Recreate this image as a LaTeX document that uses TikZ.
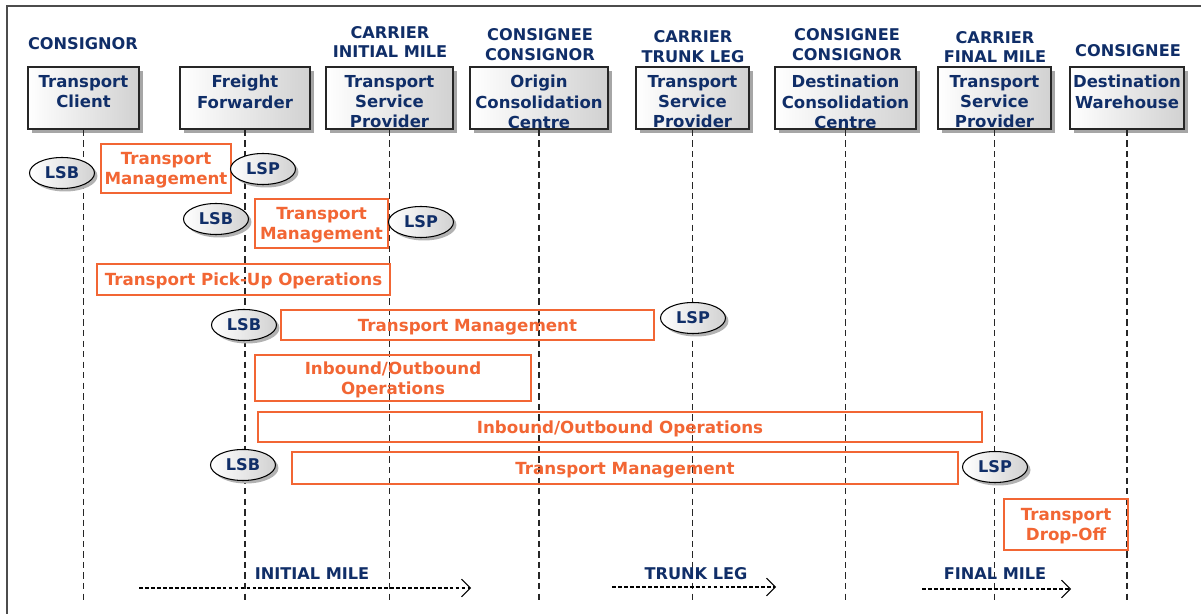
\documentclass[tikz,border=0pt]{standalone}
\usepackage{fontspec}
\setmainfont{DejaVu Sans}
\usetikzlibrary{arrows.meta,positioning,shadows,shapes.geometric}
\definecolor{sdnavy}{RGB}{16,46,104}
\definecolor{sdorange}{RGB}{242,102,52}
\tikzset{
  actor/.style={draw=black!85, line width=0.8pt, minimum height=1.24cm, inner sep=0pt,
    left color=white, right color=black!18,
    drop shadow={shadow xshift=0.08cm, shadow yshift=-0.08cm, fill=black!35, opacity=1}},
  actortext/.style={text=sdnavy, font=\bfseries\fontsize{9.4}{11.5}\selectfont, align=center, inner sep=0pt},
  role/.style={text=sdnavy, font=\bfseries\fontsize{9.2}{11.3}\selectfont, align=center},
  task/.style={draw=sdorange, line width=1.1pt, text=sdorange, inner sep=0pt, text depth=0pt,
    font=\bfseries\fontsize{9.5}{11.3}\selectfont, align=center},
  party/.style={ellipse, draw=black, line width=0.6pt, minimum width=1.3cm, minimum height=0.62cm,
    inner sep=0pt, left color=white, right color=black!18, text=sdnavy,
    font=\bfseries\fontsize{9.2}{10}\selectfont,
    drop shadow={shadow xshift=0.06cm, shadow yshift=-0.06cm, fill=black!30, opacity=1}},
  lifeline/.style={dash pattern=on 3.6pt off 2.4pt, line width=0.6pt, black!85},
  phase/.style={dash pattern=on 2.2pt off 1.2pt, line width=0.6pt, -{Straight Barb[length=5pt,width=10pt]}},
  phaselabel/.style={text=sdnavy, font=\bfseries\fontsize{9.2}{10}\selectfont}
}
\begin{document}
\begin{tikzpicture}[x=0.02cm, y=-0.02cm]
\useasboundingbox (0,0) rectangle (1201,614);
% Frame
\draw[black!70, line width=0.7pt] (7,614) -- (7,6) -- (1201,6);
% Roles above the boxes
\node[role] (r-consignor) at (83,44) {CONSIGNOR};
\node[role] (r-initial) at (390,42) {CARRIER\\INITIAL MILE};
\node[role] (r-origin) at (540,45) {CONSIGNEE\\CONSIGNOR};
\node[role] (r-trunk) at (693,47) {CARRIER\\TRUNK LEG};
\node[role] (r-dest) at (847,45) {CONSIGNEE\\CONSIGNOR};
\node[role] (r-final) at (995,47) {CARRIER\\FINAL MILE};
\node[role] (r-consignee) at (1128,51) {CONSIGNEE};
% Actor boxes
\node[actor, minimum width=2.22cm, label={[actortext, anchor=north, yshift=-5pt]north:{Transport\\Client}}] (tclient) at (83.5,98) {};
\node[actor, minimum width=2.6cm, label={[actortext, anchor=north, yshift=-5pt]north:{Freight\\Forwarder}}] (fwd) at (245,98) {};
\node[actor, minimum width=2.54cm, label={[actortext, anchor=north, yshift=-5pt]north:{Transport\\Service\\Provider}}] (tsp1) at (389.5,98) {};
\node[actor, minimum width=2.76cm, label={[actortext, anchor=north, yshift=-5pt]north:{Origin\\Consolidation\\Centre}}] (origin) at (539,98) {};
\node[actor, minimum width=2.26cm, label={[actortext, anchor=north, yshift=-5pt]north:{Transport\\Service\\Provider}}] (tsp2) at (692.5,98) {};
\node[actor, minimum width=2.82cm, label={[actortext, anchor=north, yshift=-5pt]north:{Destination\\Consolidation\\Centre}}] (dest) at (845.5,98) {};
\node[actor, minimum width=2.26cm, label={[actortext, anchor=north, yshift=-5pt]north:{Transport\\Service\\Provider}}] (tsp3) at (994.5,98) {};
\node[actor, minimum width=2.28cm, label={[actortext, anchor=north, yshift=-5pt]north:{Destination\\Warehouse}}] (whouse) at (1127,98) {};
% Lifelines
\coordinate (bottom) at (0,600);
\foreach \n in {tclient,fwd,tsp1,origin,tsp2,dest,tsp3,whouse}
  \draw[lifeline] (\n.south) -- (\n.south |- bottom);
% Activities
\node[task, minimum width=2.6cm, minimum height=0.98cm] (tm1) at (166,168.5) {Transport\\Management};
\node[task, minimum width=2.66cm, minimum height=0.98cm] (tm2) at (321.5,223.5) {Transport\\Management};
\node[task, minimum width=5.86cm, minimum height=0.62cm] (pickup) at (243.5,279.5) {Transport Pick-Up Operations};
\node[task, minimum width=7.46cm, minimum height=0.6cm] (tm3) at (467.5,325) {Transport Management};
\node[task, minimum width=5.52cm, minimum height=0.92cm] (io1) at (393,378) {Inbound/Outbound\\Operations};
\node[task, minimum width=14.48cm, minimum height=0.6cm] (io2) at (620,427) {Inbound/Outbound Operations};
\node[task, minimum width=13.32cm, minimum height=0.64cm] (tm4) at (625,468) {Transport Management};
\node[task, minimum width=2.48cm, minimum height=1.02cm] (dropoff) at (1066,524.5) {Transport\\Drop-Off};
% Buyer and provider marks
\node[party] (lsb1) at (62,173) {LSB};
\node[party] (lsp1) at (263,169) {LSP};
\node[party] (lsb2) at (216,219) {LSB};
\node[party] (lsp2) at (421,222) {LSP};
\node[party] (lsb3) at (244,325) {LSB};
\node[party] (lsp3) at (693,318) {LSP};
\node[party] (lsb4) at (243,465) {LSB};
\node[party] (lsp4) at (995,467) {LSP};
% Legs along the bottom
\coordinate (im-start) at (139,588);
\coordinate (im-end) at (471,588);
\coordinate (tl-start) at (612,587);
\coordinate (tl-end) at (776,587);
\coordinate (fm-start) at (922,589);
\coordinate (fm-end) at (1071,589);
\draw[phase] (im-start) -- (im-end);
\draw[phase] (tl-start) -- (tl-end);
\draw[phase] (fm-start) -- (fm-end);
\node[phaselabel] (l-initial) at (312,574) {INITIAL MILE};
\node[phaselabel] (l-trunk) at (696,574) {TRUNK LEG};
\node[phaselabel] (l-final) at (995,574) {FINAL MILE};
\end{tikzpicture}
\end{document}
